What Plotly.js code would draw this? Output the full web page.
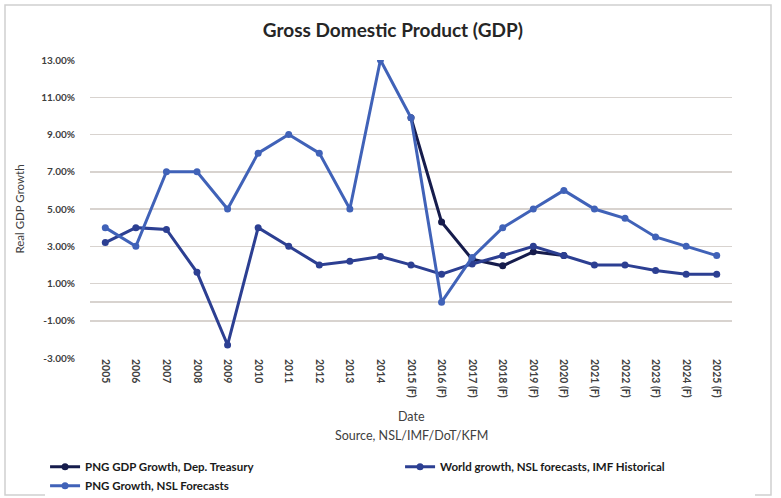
<!DOCTYPE html>
<html>
<head>
<meta charset="utf-8">
<script src="https://cdn.plot.ly/plotly-3.0.1.min.js"></script>
<style>
html,body{margin:0;padding:0;background:#fff;}
#chart{width:781px;height:498px;}
</style>
</head>
<body>
<div id="chart"></div>
<script>
// Categories (x axis)
var years = ["2005","2006","2007","2008","2009","2010","2011","2012","2013","2014",
  "2015 (F)","2016 (F)","2017 (F)","2018 (F)","2019 (F)","2020 (F)","2021 (F)","2022 (F)","2023 (F)","2024 (F)","2025 (F)"];

// PNG GDP Growth, Dep. Treasury (2015 onwards)
var treasuryYears = ["2015 (F)","2016 (F)","2017 (F)","2018 (F)","2019 (F)","2020 (F)"];
var treasuryGrowth = [9.9, 4.3, 2.3, 1.95, 2.7, 2.5];

// World growth, NSL forecasts, IMF Historical
var worldGrowth = [3.2, 4.0, 3.9, 1.6, -2.3, 4.0, 3.0, 2.0, 2.2, 2.45, 2.0, 1.5, 2.05, 2.5, 3.0, 2.5, 2.0, 2.0, 1.7, 1.5, 1.5];

// PNG Growth, NSL Forecasts
var pngGrowth = [4.0, 3.0, 7.0, 7.0, 5.0, 8.0, 9.0, 8.0, 5.0, 13.0, 9.9, 0.0, 2.4, 4.0, 5.0, 6.0, 5.0, 4.5, 3.5, 3.0, 2.5];

// Y ticks
var yTicks = [13, 11, 9, 7, 5, 3, 1, -1, -3];
var yTickText = ["13.00%","11.00%","9.00%","7.00%","5.00%","3.00%","1.00%","-1.00%","-3.00%"];

// Axis titles
var xTitle = "Date";
var sourceNote = "Source, NSL/IMF/DoT/KFM";
var yTitle = "Real GDP Growth";

var cDark = "#161c4c", cWorld = "#2c3f92", cPng = "#4062b8";

var traces = [
  {x: treasuryYears, y: treasuryGrowth, name: "PNG GDP Growth, Dep. Treasury", type: "scatter", mode: "lines+markers",
   line: {color: cDark, width: 3}, marker: {color: cDark, size: 7}},
  {x: years, y: worldGrowth, name: "World growth, NSL forecasts, IMF Historical", type: "scatter", mode: "lines+markers",
   line: {color: cWorld, width: 3}, marker: {color: cWorld, size: 7}},
  {x: years, y: pngGrowth, name: "PNG Growth, NSL Forecasts", type: "scatter", mode: "lines+markers",
   line: {color: cPng, width: 3}, marker: {color: cPng, size: 7}}
];

var fam = "Lato, 'Open Sans', sans-serif";

var layout = {
  width: 781, height: 498,
  paper_bgcolor: "#ffffff", plot_bgcolor: "#ffffff",
  margin: {l: 90, r: 49, t: 60, b: 140, autoexpand: false},
  font: {family: fam, color: "#404040"},
  title: {text: "<b>Gross Domestic Product (GDP)</b>", x: 0.503, xref: "container", xanchor: "center",
          y: 0.94, yref: "container", yanchor: "middle", font: {size: 19, color: "#262626", family: fam}},
  showlegend: true,
  legend: {orientation: "h", x: -0.07, xanchor: "left", y: -0.316, yanchor: "top",
           entrywidth: 310, entrywidthmode: "pixels", traceorder: "normal",
           font: {size: 11.5, color: "#1a1a1a", family: fam, weight: 700}, tracegroupgap: 0},
  xaxis: {
    type: "category", categoryorder: "array", categoryarray: years,
    range: [-0.5, 20.5], tickangle: 90, showgrid: false, zeroline: false,
    showline: false, ticks: "",
    tickfont: {size: 10.5, color: "#404040", family: fam, weight: 700},
    automargin: false
  },
  yaxis: {
    range: [-3, 13], tickvals: yTicks, ticktext: yTickText,
    showgrid: true, gridcolor: "#d8d3cf", gridwidth: 1.5,
    zeroline: true, zerolinecolor: "#d8d3cf", zerolinewidth: 1.5,
    showline: false, ticks: "", ticklen: 0, ticklabelstandoff: 14,
    tickfont: {size: 10, color: "#404040", family: fam, weight: 700},
    title: {text: yTitle, font: {size: 11.5, color: "#404040", family: fam}, standoff: 14},
    automargin: false
  },
  annotations: [
    {text: xTitle, xref: "paper", yref: "paper", x: 0.5, y: (358 - 416) / 298, xanchor: "center", yanchor: "middle",
     showarrow: false, font: {size: 12.5, color: "#404040", family: fam}},
    {text: sourceNote, xref: "paper", yref: "paper", x: 0.5, y: (358 - 435) / 298, xanchor: "center", yanchor: "middle",
     showarrow: false, font: {size: 12.5, color: "#404040", family: fam}}
  ],
  shapes: [
    {type: "rect", xref: "paper", yref: "paper",
     x0: (5 - 90) / 642, x1: (771 - 90) / 642, y0: (358 - 495) / 298, y1: (358 - 5) / 298,
     line: {color: "#d0d0d0", width: 1.5}, fillcolor: "rgba(0,0,0,0)", layer: "below"}
  ]
};

Plotly.newPlot("chart", traces, layout, {displayModeBar: false, staticPlot: true});
</script>
</body>
</html>
